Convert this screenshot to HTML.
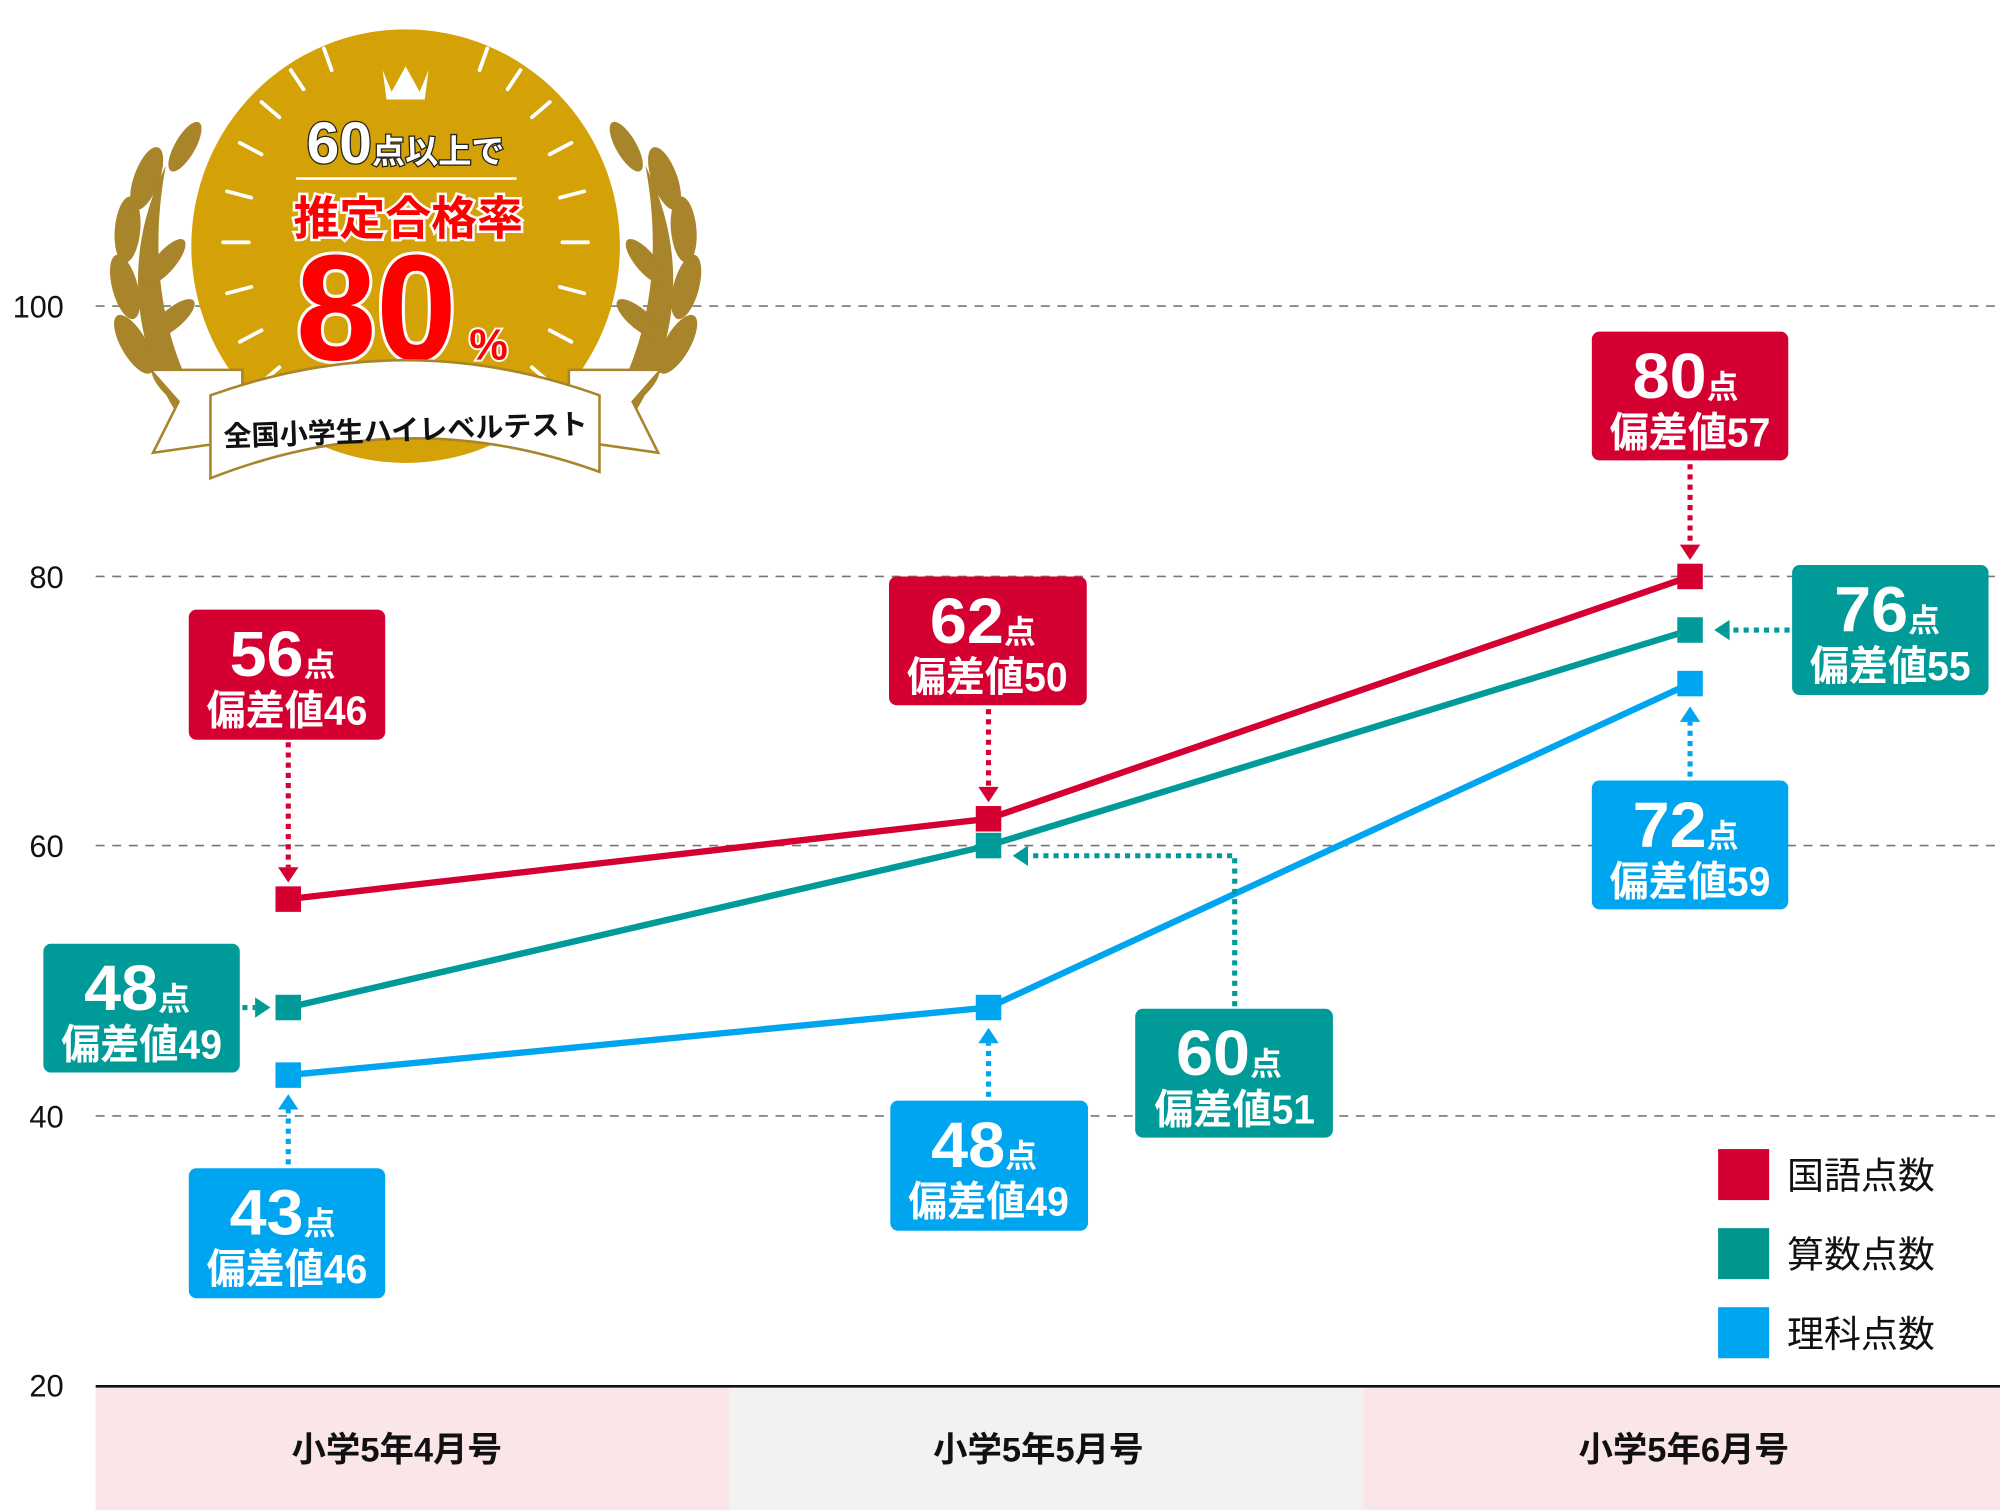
<!DOCTYPE html>
<html><head><meta charset="utf-8"><style>
html,body{margin:0;padding:0;background:#fff;width:2000px;height:1510px;overflow:hidden}
svg{display:block}
text{font-family:"Liberation Sans","Noto Sans CJK JP",sans-serif}
</style></head><body>
<svg width="2000" height="1510" viewBox="0 0 1568 1184" preserveAspectRatio="none" xmlns="http://www.w3.org/2000/svg">
<rect x="75" y="1087" width="497" height="97" fill="#fae6e8"/>
<rect x="572" y="1087" width="497" height="97" fill="#f3f2f1"/>
<rect x="1069" y="1087" width="499" height="97" fill="#fae6e8"/>
<g font-size="27" font-weight="bold" fill="#111" text-anchor="middle">
<text x="311" y="1146">小学5年4月号</text>
<text x="814" y="1146">小学5年5月号</text>
<text x="1320" y="1146">小学5年6月号</text>
</g>
<g stroke="#777" stroke-width="1.3" stroke-dasharray="7,6">
<line x1="75" y1="240" x2="1568" y2="240"/>
<line x1="75" y1="452" x2="1568" y2="452"/>
<line x1="75" y1="663" x2="1568" y2="663"/>
<line x1="75" y1="875" x2="1568" y2="875"/>
</g>
<line x1="75" y1="1087" x2="1568" y2="1087" stroke="#111" stroke-width="2"/>
<g font-size="25" fill="#111" text-anchor="end">
<text x="50" y="249" textLength="40" lengthAdjust="spacingAndGlyphs">100</text>
<text x="50" y="461" textLength="27" lengthAdjust="spacingAndGlyphs">80</text>
<text x="50" y="672" textLength="27" lengthAdjust="spacingAndGlyphs">60</text>
<text x="50" y="884" textLength="27" lengthAdjust="spacingAndGlyphs">40</text>
<text x="50" y="1095" textLength="27" lengthAdjust="spacingAndGlyphs">20</text>
</g>

<g>
 <g fill="#a8842a">
  <path d="M150,340 C110,290 90,210 130,130 C115,210 130,280 165,330Z"/>
  <ellipse cx="105" cy="270" rx="10" ry="26" transform="rotate(-30 105 270)"/>
  <ellipse cx="98" cy="225" rx="10" ry="26" transform="rotate(-15 98 225)"/>
  <ellipse cx="100" cy="180" rx="10" ry="26" transform="rotate(5 100 180)"/>
  <ellipse cx="115" cy="140" rx="10" ry="26" transform="rotate(20 115 140)"/>
  <ellipse cx="140" cy="305" rx="10" ry="26" transform="rotate(-50 140 305)"/>
  <ellipse cx="145" cy="115" rx="8" ry="22" transform="rotate(30 145 115)"/>
  <ellipse cx="135" cy="250" rx="8" ry="22" transform="rotate(50 135 250)"/>
  <ellipse cx="130" cy="205" rx="8" ry="22" transform="rotate(40 130 205)"/>
  <path d="M486,340 C526,290 546,210 506,130 C521,210 506,280 471,330Z"/>
  <ellipse cx="531" cy="270" rx="10" ry="26" transform="rotate(30 531 270)"/>
  <ellipse cx="538" cy="225" rx="10" ry="26" transform="rotate(15 538 225)"/>
  <ellipse cx="536" cy="180" rx="10" ry="26" transform="rotate(-5 536 180)"/>
  <ellipse cx="521" cy="140" rx="10" ry="26" transform="rotate(-20 521 140)"/>
  <ellipse cx="496" cy="305" rx="10" ry="26" transform="rotate(50 496 305)"/>
  <ellipse cx="491" cy="115" rx="8" ry="22" transform="rotate(-30 491 115)"/>
  <ellipse cx="501" cy="250" rx="8" ry="22" transform="rotate(-50 501 250)"/>
  <ellipse cx="506" cy="205" rx="8" ry="22" transform="rotate(-40 506 205)"/>
 </g>
 <ellipse cx="318" cy="193" rx="168" ry="170" fill="#d4a107"/>
 <g stroke="#fff" stroke-width="3" stroke-linecap="round">
  <line x1="175" y1="190" x2="195" y2="190"/><line x1="441" y1="190" x2="461" y2="190"/>
  <line x1="178" y1="150" x2="197" y2="155"/><line x1="458" y1="150" x2="439" y2="155"/>
  <line x1="188" y1="112" x2="205" y2="121"/><line x1="448" y1="112" x2="431" y2="121"/>
  <line x1="205" y1="80" x2="219" y2="92"/><line x1="431" y1="80" x2="417" y2="92"/>
  <line x1="228" y1="55" x2="238" y2="70"/><line x1="408" y1="55" x2="398" y2="70"/>
  <line x1="254" y1="38" x2="260" y2="55"/><line x1="382" y1="38" x2="376" y2="55"/>
  <line x1="178" y1="230" x2="197" y2="225"/><line x1="458" y1="230" x2="439" y2="225"/>
  <line x1="188" y1="268" x2="205" y2="259"/><line x1="448" y1="268" x2="431" y2="259"/>
  <line x1="205" y1="300" x2="219" y2="288"/><line x1="431" y1="300" x2="417" y2="288"/>
 </g>
 <path d="M300,55 L307,72 L318,52 L329,72 L336,55 L333,78 L303,78Z" fill="#fff"/>
 <text x="318" y="128" font-size="46" font-weight="bold" fill="#fff" stroke="#222" stroke-width="2" text-anchor="middle" paint-order="stroke">60<tspan font-size="26">点以上で</tspan></text>
 <line x1="232" y1="140" x2="405" y2="140" stroke="#fff" stroke-width="2"/>
 <text x="320" y="184" font-size="36" font-weight="bold" fill="#f00" stroke="#fff" stroke-width="4" paint-order="stroke" text-anchor="middle">推定合格率</text>
 <text x="232" y="282" font-size="118" font-weight="bold" fill="#f00" stroke="#fff" stroke-width="5" paint-order="stroke" textLength="126" lengthAdjust="spacingAndGlyphs">80</text>
 <text x="383" y="282" font-size="34" font-weight="bold" fill="#f00" stroke="#fff" stroke-width="3" paint-order="stroke" text-anchor="middle">%</text>
 <path d="M120,355 L140,315 L118,290 L190,290 L190,345Z" fill="#fff" stroke="#a8842a" stroke-width="2"/>
 <path d="M516,355 L496,315 L518,290 L446,290 L446,345Z" fill="#fff" stroke="#a8842a" stroke-width="2"/>
 <path d="M165,310 Q318,255 470,310 L470,370 Q318,315 165,375Z" fill="#fff" stroke="#a8842a" stroke-width="2"/>
 <text x="318" y="345" font-size="22" font-weight="bold" fill="#111" text-anchor="middle" transform="rotate(-2 318 340)">全国小学生ハイレベルテスト</text>
</g>

<g fill="none" stroke-width="5">
<polyline points="226,705 775,642 1325,452" stroke="#d50032"/>
<polyline points="226,790 775,663 1325,494" stroke="#009a98"/>
<polyline points="226,843 775,790 1325,536" stroke="#00a5ef"/>
</g>
<g>
<rect x="216" y="695" width="20" height="20" fill="#d50032"/>
<rect x="765" y="632" width="20" height="20" fill="#d50032"/>
<rect x="1315" y="442" width="20" height="20" fill="#d50032"/>
<rect x="216" y="780" width="20" height="20" fill="#009a98"/>
<rect x="765" y="653" width="20" height="20" fill="#009a98"/>
<rect x="1315" y="484" width="20" height="20" fill="#009a98"/>
<rect x="216" y="833" width="20" height="20" fill="#00a5ef"/>
<rect x="765" y="780" width="20" height="20" fill="#00a5ef"/>
<rect x="1315" y="526" width="20" height="20" fill="#00a5ef"/>
</g>

<g fill="none" stroke-width="4" stroke-dasharray="4,4">
<line x1="226" y1="582" x2="226" y2="680" stroke="#d50032"/>
<line x1="775" y1="556" x2="775" y2="617" stroke="#d50032"/>
<line x1="1325" y1="364" x2="1325" y2="427" stroke="#d50032"/>
<line x1="190" y1="790" x2="200" y2="790" stroke="#009a98"/>
<polyline points="968,789 968,671 806,671" stroke="#009a98"/>
<line x1="1403" y1="494" x2="1356" y2="494" stroke="#009a98"/>
<line x1="226" y1="913" x2="226" y2="870" stroke="#00a5ef"/>
<line x1="775" y1="860" x2="775" y2="818" stroke="#00a5ef"/>
<line x1="1325" y1="609" x2="1325" y2="566" stroke="#00a5ef"/>
</g>
<g>
<path d="M218,680 L234,680 L226,692Z" fill="#d50032"/>
<path d="M767,617 L783,617 L775,629Z" fill="#d50032"/>
<path d="M1317,427 L1333,427 L1325,439Z" fill="#d50032"/>
<path d="M200,782 L200,798 L212,790Z" fill="#009a98"/>
<path d="M806,663 L806,679 L794,671Z" fill="#009a98"/>
<path d="M1356,486 L1356,502 L1344,494Z" fill="#009a98"/>
<path d="M218,870 L234,870 L226,858Z" fill="#00a5ef"/>
<path d="M767,818 L783,818 L775,806Z" fill="#00a5ef"/>
<path d="M1317,566 L1333,566 L1325,554Z" fill="#00a5ef"/>
</g>

<g font-weight="bold" fill="#fff">
<rect x="148" y="478" width="154" height="102" rx="6" fill="#d50032"/>
<text x="180" y="530" font-size="50" textLength="58" lengthAdjust="spacingAndGlyphs">56</text><text x="238" y="530" font-size="25">点</text>
<text x="162" y="568" font-size="32" textLength="126" lengthAdjust="spacingAndGlyphs">偏差値46</text>

<rect x="697" y="452" width="155" height="101" rx="6" fill="#d50032"/>
<text x="729" y="504" font-size="50" textLength="58" lengthAdjust="spacingAndGlyphs">62</text><text x="787" y="504" font-size="25">点</text>
<text x="711" y="542" font-size="32" textLength="126" lengthAdjust="spacingAndGlyphs">偏差値50</text>

<rect x="1248" y="260" width="154" height="101" rx="6" fill="#d50032"/>
<text x="1280" y="312" font-size="50" textLength="58" lengthAdjust="spacingAndGlyphs">80</text><text x="1338" y="312" font-size="25">点</text>
<text x="1262" y="350" font-size="32" textLength="126" lengthAdjust="spacingAndGlyphs">偏差値57</text>

<rect x="34" y="740" width="154" height="101" rx="6" fill="#009a98"/>
<text x="66" y="792" font-size="50" textLength="58" lengthAdjust="spacingAndGlyphs">48</text><text x="124" y="792" font-size="25">点</text>
<text x="48" y="830" font-size="32" textLength="126" lengthAdjust="spacingAndGlyphs">偏差値49</text>

<rect x="890" y="791" width="155" height="101" rx="6" fill="#009a98"/>
<text x="922" y="843" font-size="50" textLength="58" lengthAdjust="spacingAndGlyphs">60</text><text x="980" y="843" font-size="25">点</text>
<text x="905" y="881" font-size="32" textLength="126" lengthAdjust="spacingAndGlyphs">偏差値51</text>

<rect x="1405" y="443" width="154" height="102" rx="6" fill="#009a98"/>
<text x="1438" y="495" font-size="50" textLength="58" lengthAdjust="spacingAndGlyphs">76</text><text x="1496" y="495" font-size="25">点</text>
<text x="1419" y="533" font-size="32" textLength="126" lengthAdjust="spacingAndGlyphs">偏差値55</text>

<rect x="148" y="916" width="154" height="102" rx="6" fill="#00a5ef"/>
<text x="180" y="968" font-size="50" textLength="58" lengthAdjust="spacingAndGlyphs">43</text><text x="238" y="968" font-size="25">点</text>
<text x="162" y="1006" font-size="32" textLength="126" lengthAdjust="spacingAndGlyphs">偏差値46</text>

<rect x="698" y="863" width="155" height="102" rx="6" fill="#00a5ef"/>
<text x="730" y="915" font-size="50" textLength="58" lengthAdjust="spacingAndGlyphs">48</text><text x="788" y="915" font-size="25">点</text>
<text x="712" y="953" font-size="32" textLength="126" lengthAdjust="spacingAndGlyphs">偏差値49</text>

<rect x="1248" y="612" width="154" height="101" rx="6" fill="#00a5ef"/>
<text x="1280" y="664" font-size="50" textLength="58" lengthAdjust="spacingAndGlyphs">72</text><text x="1338" y="664" font-size="25">点</text>
<text x="1262" y="702" font-size="32" textLength="126" lengthAdjust="spacingAndGlyphs">偏差値59</text>
</g>

<rect x="1347" y="901" width="40" height="40" fill="#d50032"/>
<rect x="1347" y="963" width="40" height="40" fill="#00958f"/>
<rect x="1347" y="1025" width="40" height="40" fill="#00a5ef"/>
<g font-size="29" fill="#111">
<text x="1401" y="932">国語点数</text>
<text x="1401" y="994">算数点数</text>
<text x="1401" y="1056">理科点数</text>
</g>
</svg>
</body></html>
